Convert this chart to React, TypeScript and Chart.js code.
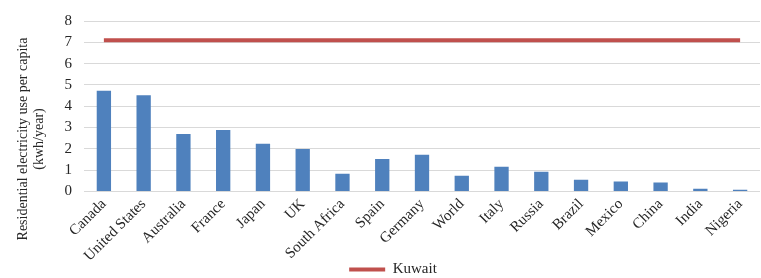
import React, { useEffect, useRef } from "react";
import { Chart, registerables } from "chart.js";

Chart.register(...registerables);

const categories = [
  "Canada", "United States", "Australia", "France", "Japan", "UK", "South Africa",
  "Spain", "Germany", "World", "Italy", "Russia", "Brazil", "Mexico", "China", "India", "Nigeria",
];
const countryValues = [4.73, 4.52, 2.69, 2.88, 2.24, 1.99, 0.83, 1.52, 1.72, 0.74, 1.16, 0.92, 0.55, 0.46, 0.42, 0.13, 0.08];
const kuwaitValue = 7.1;
const kuwaitValues = categories.map(() => kuwaitValue);
const yAxisTitle = ["Residential electricity use per capita", "(kwh/year)"];
const legendLabel = "Kuwait";

const FONT = "'Liberation Serif', 'Times New Roman', serif";

const titlePlugin = {
  id: "sideTitle",
  afterDraw(chart: any) {
    const ctx = chart.ctx;
    ctx.save();
    ctx.font = `14px ${FONT}`;
    ctx.fillStyle = "#262626";
    ctx.textAlign = "center";
    ctx.textBaseline = "middle";
    const cy = chart.height / 2;
    const xs = [23, 39];
    yAxisTitle.forEach((line, i) => {
      ctx.save();
      ctx.translate(xs[i], cy);
      ctx.rotate(-Math.PI / 2);
      ctx.fillText(line, 0, 0);
      ctx.restore();
    });
    ctx.restore();
  },
};

export default function App() {
  const ref = useRef<HTMLCanvasElement>(null);
  useEffect(() => {
    if (!ref.current) return;
    const chart = new Chart(ref.current, {
      type: "bar",
      data: {
        labels: categories,
        datasets: [
          {
            type: "line",
            label: legendLabel,
            data: kuwaitValues,
            borderColor: "#C0504D",
            backgroundColor: "#C0504D",
            borderWidth: 4,
            pointRadius: 0,
            pointHoverRadius: 0,
            order: 0,
          } as any,
          {
            type: "bar",
            label: "Countries",
            data: countryValues,
            backgroundColor: "#4F81BD",
            barPercentage: 0.36,
            categoryPercentage: 1,
            order: 1,
          },
        ],
      },
      options: {
        responsive: false,
        animation: false,
        layout: { padding: { top: 12, left: 26, right: 1, bottom: -9 } },
        plugins: {
          tooltip: { enabled: false },
          legend: {
            position: "bottom",
            labels: {
              filter: (item: any) => item.text === legendLabel,
              usePointStyle: true,
              pointStyle: "line",
              pointStyleWidth: 36,
              font: { family: FONT, size: 15, lineHeight: 1 },
              color: "#262626",
              padding: 0,
            },
          },
        },
        scales: {
          x: {
            grid: { display: false, drawTicks: false },
            border: { display: false },
            afterFit: (scale: any) => {
              scale.height = scale.height - 7;
            },
            ticks: {
              maxRotation: 45,
              minRotation: 45,
              autoSkip: false,
              padding: 4,
              font: { family: FONT, size: 15 },
              color: "#262626",
            },
          },
          y: {
            min: 0,
            max: 8,
            border: { display: false },
            grid: { color: "#D9D9D9", lineWidth: 1, drawTicks: false },
            afterFit: (scale: any) => {
              scale.width = 58;
            },
            ticks: {
              stepSize: 1,
              autoSkip: false,
              padding: 12,
              font: { family: FONT, size: 15 },
              color: "#262626",
            },
          },
        },
      },
      plugins: [titlePlugin],
    });
    return () => chart.destroy();
  }, []);
  return (
    <div style={{ position: "absolute", left: 0, top: 0, width: 761, height: 278 }}>
      <canvas ref={ref} width={761} height={278} />
    </div>
  );
}
